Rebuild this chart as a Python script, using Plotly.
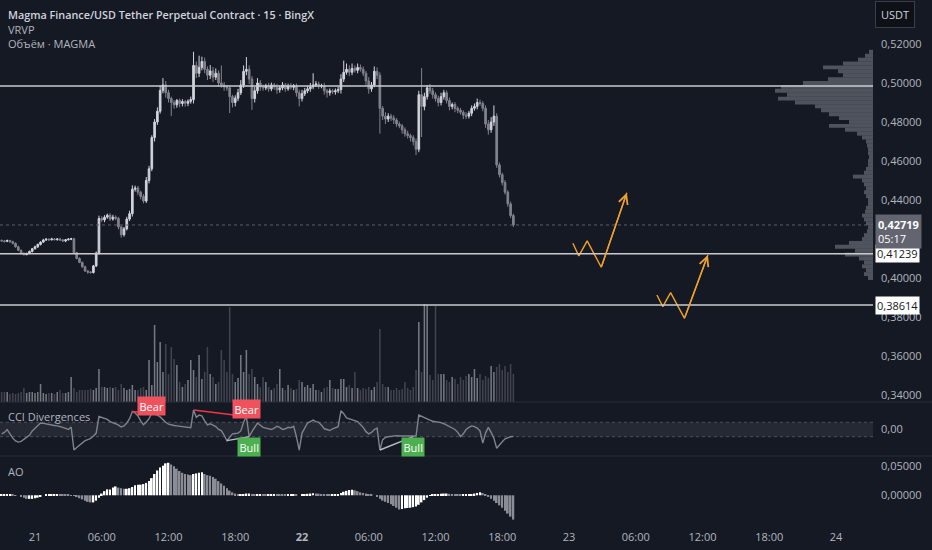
import numpy as np
import pandas as pd
import plotly.graph_objects as go

# ---------------- data ----------------
title_main = "Magma Finance/USD Tether Perpetual Contract · 15 · BingX"
title_vrvp = "VRVP"
title_vol = "Объём · MAGMA"
title_cci = "CCI Divergences"
title_ao = "AO"
quote_ccy = "USDT"

start_time = "2025-05-20 21:00"
open_first = 0.4192

closes = [
    0.4190, 0.4188, 0.4192, 0.4186, 0.4178, 0.4160, 0.4142, 0.4126, 0.4120, 0.4126,
    0.4136, 0.4150, 0.4160, 0.4172, 0.4184, 0.4195, 0.4199, 0.4196, 0.4200, 0.4197,
    0.4200, 0.4195, 0.4190, 0.4196, 0.4199, 0.4201, 0.4130, 0.4100, 0.4080, 0.4058,
    0.4036, 0.4030, 0.4028, 0.4062, 0.4128, 0.4305, 0.4298, 0.4312, 0.4322, 0.4302,
    0.4312, 0.4306, 0.4262, 0.4222, 0.4252, 0.4302, 0.4330, 0.4455, 0.4462, 0.4440,
    0.4418, 0.4395, 0.4500, 0.4560, 0.4720, 0.4800, 0.4855, 0.4962, 0.4990, 0.4950,
    0.4920, 0.4900, 0.4888, 0.4910, 0.4895, 0.4905, 0.4896, 0.4906, 0.4915, 0.5090,
    0.5050, 0.5080, 0.5110, 0.5070, 0.5040, 0.5062, 0.5030, 0.5050, 0.5000, 0.4990,
    0.4980, 0.4975, 0.4930, 0.4900, 0.4922, 0.4950, 0.4990, 0.5060, 0.5070, 0.5020,
    0.4920, 0.4960, 0.5000, 0.4980, 0.4975, 0.4986, 0.4970, 0.4990, 0.4980, 0.4965,
    0.4975, 0.4990, 0.4970, 0.4985, 0.4978, 0.4985, 0.4950, 0.4920, 0.4945, 0.4960,
    0.4970, 0.4980, 0.4990, 0.4995, 0.4985, 0.4986, 0.4960, 0.4950, 0.4960, 0.4955,
    0.4960, 0.4966, 0.5020, 0.5055, 0.5070, 0.5055, 0.5075, 0.5065, 0.5080, 0.5070,
    0.5050, 0.5010, 0.4970, 0.4990, 0.5060, 0.5040, 0.4870, 0.4830, 0.4815, 0.4830,
    0.4820, 0.4810, 0.4790, 0.4780, 0.4760, 0.4740, 0.4730, 0.4720, 0.4700, 0.4660,
    0.4940, 0.4880, 0.4930, 0.4975, 0.4960, 0.4940, 0.4920, 0.4900, 0.4930, 0.4950,
    0.4910, 0.4880, 0.4890, 0.4870, 0.4860, 0.4850, 0.4835, 0.4830, 0.4845, 0.4870,
    0.4880, 0.4900, 0.4895, 0.4870, 0.4790, 0.4760, 0.4800, 0.4830, 0.4580, 0.4530,
    0.4490, 0.4440, 0.4380, 0.4320, 0.42719,
]

# wick lengths above / below the candle body, in units of 0.0001
wick_up = [
    6, 4, 5, 4, 5, 4, 6, 4, 5, 4,
    5, 4, 6, 5, 4, 6, 5, 4, 6, 5,
    4, 6, 5, 4, 6, 5, 5, 4, 6, 4,
    5, 4, 6, 5, 8, 15, 12, 10, 8, 10,
    12, 9, 8, 6, 10, 12, 15, 20, 12, 10,
    8, 12, 18, 15, 12, 15, 20, 25, 35, 20,
    15, 10, 12, 8, 10, 12, 8, 10, 15, 70,
    20, 60, 25, 20, 15, 30, 20, 25, 15, 90,
    15, 10, 12, 10, 15, 20, 25, 30, 63, 20,
    15, 20, 25, 15, 12, 10, 15, 12, 10, 15,
    12, 15, 10, 12, 15, 10, 12, 15, 20, 15,
    15, 20, 60, 15, 12, 10, 15, 10, 12, 10,
    12, 15, 25, 60, 30, 20, 25, 15, 20, 15,
    15, 12, 20, 15, 25, 20, 15, 12, 20, 15,
    12, 15, 10, 12, 10, 12, 15, 10, 12, 15,
    20, 137, 20, 15, 20, 15, 12, 15, 20, 15,
    12, 15, 10, 12, 10, 12, 10, 15, 12, 15,
    15, 20, 15, 12, 15, 20, 25, 55, 15, 12,
    10, 12, 10, 12, 10,
]
wick_dn = [
    5, 6, 4, 5, 6, 5, 4, 6, 5, 4,
    4, 5, 4, 6, 5, 4, 5, 6, 4, 5,
    6, 4, 5, 6, 4, 5, 6, 5, 4, 6,
    5, 8, 6, 5, 6, 8, 10, 12, 8, 10,
    8, 10, 12, 15, 10, 8, 10, 15, 12, 15,
    15, 12, 10, 15, 12, 20, 15, 12, 15, 25,
    20, 70, 20, 15, 20, 15, 18, 15, 12, 20,
    25, 20, 15, 20, 25, 20, 25, 15, 20, 15,
    20, 15, 84, 25, 20, 15, 12, 15, 20, 25,
    58, 20, 15, 20, 15, 12, 15, 12, 15, 20,
    15, 12, 15, 10, 12, 15, 20, 40, 15, 12,
    12, 15, 12, 10, 15, 12, 20, 25, 15, 12,
    15, 12, 20, 15, 12, 20, 15, 12, 15, 12,
    15, 20, 25, 15, 12, 20, 130, 20, 25, 15,
    15, 20, 15, 12, 20, 15, 15, 20, 20, 30,
    15, 157, 20, 15, 15, 20, 15, 20, 15, 15,
    15, 20, 15, 20, 15, 12, 20, 15, 12, 15,
    12, 15, 12, 15, 20, 25, 15, 20, 15, 15,
    15, 12, 15, 12, 10,
]

volumes = [
    10, 10, 10, 8, 9, 8, 9, 10, 14, 9,
    10, 10, 9, 10, 18, 9, 8, 9, 9, 8,
    10, 12, 9, 9, 10, 25, 14, 10, 12, 12,
    12, 12, 13, 12, 14, 33, 15, 15, 14, 15,
    14, 15, 12, 18, 14, 12, 13, 17, 12, 12,
    14, 15, 12, 42, 17, 77, 40, 60, 30, 58,
    28, 55, 43, 37, 20, 15, 18, 22, 42, 32,
    25, 47, 23, 30, 55, 28, 25, 18, 20, 52,
    42, 30, 95, 28, 20, 24, 47, 30, 52, 28,
    33, 25, 18, 15, 25, 20, 15, 12, 14, 18,
    33, 14, 12, 17, 14, 12, 13, 22, 20, 15,
    17, 14, 18, 12, 12, 10, 14, 15, 22, 14,
    13, 13, 23, 23, 15, 17, 14, 30, 14, 12,
    14, 13, 15, 12, 15, 20, 73, 18, 15, 15,
    12, 12, 14, 12, 13, 20, 14, 12, 15, 32,
    80, 30, 98, 97, 27, 22, 96, 28, 28, 28,
    22, 20, 25, 23, 18, 25, 22, 26, 28, 25,
    33, 24, 28, 22, 26, 24, 36, 30, 35, 38,
    32, 36, 30, 38, 28,
]

cci = [
    -60, -40, 0, -60, -120, -160, -175, -165, -140, -110,
    -80, -20, 20, 55, 90, 85, 75, 70, 65, 55,
    50, 45, 30, 15, 0, 35, -285, -250, -220, -180,
    -155, -140, -125, -90, -50, 180, 165, 155, 140, 110,
    100, 80, 60, 35, 50, 90, 150, 250, 230, 190,
    120, 65, 100, 150, 225, 215, 200, 175, 130, 100,
    75, 60, 55, 50, 45, 40, 30, 20, 25, 270,
    170, 200, 190, 120, 65, 80, 65, 40, 0, -15,
    -80, -155, -110, -60, -55, -50, -20, 100, 180, -100,
    -30, 30, 90, 60, 30, 20, 10, 0, 20, 45,
    30, 0, 10, 30, 25, 45, -100, -285, -50, 30,
    90, 110, 130, 110, 100, 60, 10, 0, -15, 10,
    30, 40, 260, 220, 160, 150, 140, 130, 110, 70,
    30, -30, -60, -40, 0, 20, -285, -140, -110, -100,
    -95, -80, -85, -90, -90, -95, -100, -100, -100, -90,
    200, 180, 160, 140, 130, 115, 110, 100, 95, 80,
    60, 40, 20, 0, -40, -100, -60, 0, 30, 50,
    40, 20, -20, -190, -50, 30, -40, -120, -260, -210,
    -170, -130, -110, -100, -95,
]

ao = [
    0.001, 0.001, 0.001, 0.001, 0.0008, 0.0005, 0.0, -0.002, -0.004, -0.006,
    -0.006, -0.006, -0.005, -0.004, -0.002, 0.0, 0.001, 0.0015, 0.002, 0.002,
    0.002, 0.0018, 0.0015, 0.001, 0.0008, 0.0005, -0.001, -0.003, -0.005, -0.007,
    -0.009, -0.011, -0.012, -0.012, -0.009, -0.004, 0.003, 0.007, 0.010, 0.010,
    0.013, 0.015, 0.013, 0.012, 0.011, 0.011, 0.012, 0.014, 0.017, 0.018,
    0.018, 0.019, 0.021, 0.024, 0.029, 0.036, 0.042, 0.047, 0.050, 0.054,
    0.055, 0.052, 0.049, 0.045, 0.041, 0.038, 0.036, 0.035, 0.034, 0.036,
    0.037, 0.038, 0.039, 0.036, 0.034, 0.033, 0.031, 0.028, 0.024, 0.020,
    0.016, 0.012, 0.008, 0.005, 0.003, 0.001, 0.001, 0.002, 0.003, 0.003,
    0.002, 0.001, 0.001, 0.0015, 0.001, 0.0008, 0.001, 0.0015, 0.002, 0.0018,
    0.0015, 0.0012, 0.001, 0.0015, 0.0018, 0.002, 0.0012, 0.0, 0.001, 0.002,
    0.0025, 0.003, 0.0035, 0.003, 0.0028, 0.002, 0.0015, 0.001, 0.0008, 0.001,
    0.0015, 0.002, 0.004, 0.006, 0.0075, 0.009, 0.0095, 0.0085, 0.007, 0.005,
    0.004, 0.003, 0.002, 0.001, 0.0, -0.002, -0.006, -0.009, -0.011, -0.013,
    -0.015, -0.018, -0.021, -0.024, -0.023, -0.022, -0.0215, -0.021, -0.020, -0.019,
    -0.016, -0.012, -0.008, -0.004, -0.001, 0.001, 0.0015, 0.002, 0.0025, 0.003,
    0.003, 0.0025, 0.002, 0.0015, 0.001, 0.0008, 0.001, 0.0012, 0.0015, 0.002,
    0.003, 0.004, 0.005, 0.004, 0.002, -0.002, -0.006, -0.009, -0.013, -0.017,
    -0.021, -0.026, -0.031, -0.036, -0.041,
]

# visible-range volume profile (top bin first)
profile_top = 0.516
profile_step = 0.002
profile_vol = [
    4, 8, 15, 30, 50, 35, 30, 45, 70, 92,
    98, 86, 95, 78, 58, 52, 44, 34, 24, 44,
    28, 16, 11, 7, 6, 5, 5, 4, 5, 5,
    7, 9, 20, 11, 9, 7, 9, 7, 5, 5,
    7, 8, 11, 9, 7, 5, 6, 9, 11, 24,
    38, 18, 28, 14, 9, 11, 7, 9, 5,
]

level_lines = [0.4985, 0.41239, 0.38614]
labeled_levels = [0.41239, 0.38614]
countdown = "05:17"

bear_pairs = [(47, 54), (69, 88)]
bull_pairs = [(81, 89), (136, 148)]

proj1_t = ["2025-05-23 00:21", "2025-05-23 00:53", "2025-05-23 01:38", "2025-05-23 02:54", "2025-05-23 05:12"]
proj1_p = [0.4178, 0.4113, 0.4190, 0.4055, 0.4437]
proj2_t = ["2025-05-23 07:54", "2025-05-23 08:26", "2025-05-23 09:08", "2025-05-23 10:23", "2025-05-23 12:29"]
proj2_p = [0.3913, 0.3853, 0.3925, 0.3793, 0.4118]

time_ticks = ["2025-05-21 00:00", "2025-05-21 06:00", "2025-05-21 12:00", "2025-05-21 18:00",
              "2025-05-22 00:00", "2025-05-22 06:00", "2025-05-22 12:00", "2025-05-22 18:00",
              "2025-05-23 00:00", "2025-05-23 06:00", "2025-05-23 12:00", "2025-05-23 18:00",
              "2025-05-24 00:00"]
time_text = ["21", "06:00", "12:00", "18:00", "<b>22</b>", "06:00", "12:00", "18:00",
             "23", "06:00", "12:00", "18:00", "24"]
price_ticks = [0.34, 0.36, 0.38, 0.40, 0.44, 0.46, 0.48, 0.50, 0.52]

# ---------------- derived ----------------
n = len(closes)
for name, arr in [("wick_up", wick_up), ("wick_dn", wick_dn), ("volumes", volumes),
                  ("cci", cci), ("ao", ao)]:
    assert len(arr) == n, f"{name} has {len(arr)} values, expected {n}"

times = pd.date_range(start_time, periods=n, freq="15min")
opens = [open_first] + closes[:-1]
highs = [max(o, c) + u * 1e-4 for o, c, u in zip(opens, closes, wick_up)]
lows = [min(o, c) - d * 1e-4 for o, c, d in zip(opens, closes, wick_dn)]
is_up = [c >= o for o, c in zip(opens, closes)]
last_price = closes[-1]
profile_prices = [profile_top - k * profile_step for k in range(len(profile_vol))]

def fmt(v, d=5):
    return f"{v:.{d}f}".replace(".", ",")

# ---------------- geometry ----------------
BG = "#151924"
W, H = 932, 550
ML, MR, MT, MB = 0, 59, 0, 28
PW, PH = W - ML - MR, H - MT - MB

def fx(px):
    return (px - ML) / PW

def fy(py):
    return 1 - (py - MT) / PH

price_dom = [fy(402), 1]
cci_dom = [fy(456), fy(402)]
ao_dom = [0, fy(456)]
x_range = ["2025-05-20 20:51:14", "2025-05-24 03:19:33"]
price_range = [0.33641, 0.54256]

TXT = "#b2b5be"
FONT = "Open Sans"

fig = go.Figure()

# volume (overlay in price pane)
fig.add_trace(go.Bar(
    x=times, y=volumes, xaxis="x", yaxis="y5",
    width=0.55 * 15 * 60 * 1000,
    marker=dict(color=["rgba(150,153,162,0.75)" if u else "rgba(120,123,134,0.45)" for u in is_up],
                line=dict(width=0)),
    hoverinfo="skip",
))

# candles
fig.add_trace(go.Candlestick(
    x=times, open=opens, high=highs, low=lows, close=closes,
    xaxis="x", yaxis="y",
    increasing=dict(line=dict(color="#d1d4dc", width=1), fillcolor="#d1d4dc"),
    decreasing=dict(line=dict(color="#80838d", width=1), fillcolor="#80838d"),
    whiskerwidth=0,
    hoverinfo="skip",
))

# volume profile (bars grow leftward from the right edge)
fig.add_trace(go.Bar(
    x=profile_vol, y=profile_prices, orientation="h",
    xaxis="x4", yaxis="y", width=profile_step,
    marker=dict(color="rgba(128,131,140,0.55)", line=dict(width=0)),
    hoverinfo="skip",
))

# projection zig-zags
for pt, pp in [(proj1_t, proj1_p), (proj2_t, proj2_p)]:
    fig.add_trace(go.Scatter(
        x=pt, y=pp, mode="lines", xaxis="x", yaxis="y",
        line=dict(color="#f0a030", width=1.4), hoverinfo="skip",
    ))

# CCI line
fig.add_trace(go.Scatter(
    x=times, y=cci, mode="lines", xaxis="x2", yaxis="y2",
    line=dict(color="#80838d", width=1.4), hoverinfo="skip",
))
for a, b in bear_pairs:
    fig.add_trace(go.Scatter(
        x=[times[a], times[b]], y=[cci[a], cci[b]], mode="lines",
        xaxis="x2", yaxis="y2", line=dict(color="#f23645", width=1.4), hoverinfo="skip",
    ))
for a, b in bull_pairs:
    fig.add_trace(go.Scatter(
        x=[times[a], times[b]], y=[cci[a], cci[b]], mode="lines",
        xaxis="x2", yaxis="y2", line=dict(color="#b8bbc4", width=1.4), hoverinfo="skip",
    ))

# AO histogram
ao_colors = ["#ffffff" if (i == 0 or ao[i] >= ao[i - 1]) else "#8a8d96" for i in range(n)]
fig.add_trace(go.Bar(
    x=times, y=ao, xaxis="x3", yaxis="y3",
    width=0.62 * 15 * 60 * 1000,
    marker=dict(color=ao_colors, line=dict(width=0)),
    hoverinfo="skip",
))

# ---------------- shapes ----------------
shapes = []
shapes.append(dict(type="rect", xref="paper", yref="y2", x0=0, x1=1, y0=-100, y1=100,
                   fillcolor="rgba(120,123,134,0.17)", line=dict(width=0), layer="below"))
for lv in (100, -100):
    shapes.append(dict(type="line", xref="paper", yref="y2", x0=0, x1=1, y0=lv, y1=lv,
                       line=dict(color="#4b4f5a", width=1, dash="dot"), layer="below"))
for py in (402, 456):
    shapes.append(dict(type="line", xref="paper", yref="paper", x0=0, x1=W / PW,
                       y0=fy(py), y1=fy(py), line=dict(color="#2a2e39", width=1)))
shapes.append(dict(type="line", xref="paper", yref="y", x0=0, x1=1, y0=last_price, y1=last_price,
                   line=dict(color="#5d606b", width=1, dash="dot")))
for lv in level_lines:
    shapes.append(dict(type="line", xref="paper", yref="y", x0=0, x1=1, y0=lv, y1=lv,
                       line=dict(color="#c9cbd1", width=1.5)))

# ---------------- annotations ----------------
ann = []
ann.append(dict(text=title_main, xref="paper", yref="paper", x=fx(6), y=fy(14),
                xanchor="left", yanchor="middle", showarrow=False,
                font=dict(family=FONT, size=10.8, color="#d1d4dc", weight=600)))
ann.append(dict(text=title_vrvp, xref="paper", yref="paper", x=fx(6), y=fy(29),
                xanchor="left", yanchor="middle", showarrow=False,
                font=dict(family=FONT, size=11, color=TXT)))
ann.append(dict(text=title_vol, xref="paper", yref="paper", x=fx(6), y=fy(43),
                xanchor="left", yanchor="middle", showarrow=False,
                font=dict(family=FONT, size=11, color=TXT)))
ann.append(dict(text=title_cci, xref="paper", yref="paper", x=fx(6), y=fy(416),
                xanchor="left", yanchor="middle", showarrow=False,
                font=dict(family=FONT, size=11, color=TXT)))
ann.append(dict(text=title_ao, xref="paper", yref="paper", x=fx(6), y=fy(471),
                xanchor="left", yanchor="middle", showarrow=False,
                font=dict(family=FONT, size=11, color=TXT)))
ann.append(dict(text=quote_ccy, xref="paper", yref="paper", x=fx(875), y=fy(14),
                xanchor="left", yanchor="middle", showarrow=False,
                bgcolor="#0e1118", bordercolor="#3a3e4a", borderwidth=1, borderpad=5,
                font=dict(family=FONT, size=11, color="#d1d4dc")))
for lv in labeled_levels:
    ann.append(dict(text=fmt(lv), xref="paper", yref="y", x=fx(875), y=lv,
                    xanchor="left", yanchor="middle", showarrow=False,
                    bgcolor="#ffffff", borderpad=1,
                    font=dict(family=FONT, size=11, color="#131722")))
ann.append(dict(text=f"<b>{fmt(last_price)}</b><br>{countdown}", xref="paper", yref="y",
                x=fx(875), y=last_price, yshift=-7, xanchor="left", yanchor="middle",
                showarrow=False, bgcolor="#62656f", borderpad=2, align="left",
                font=dict(family=FONT, size=11, color="#ffffff")))
for (a, b), py in zip(bear_pairs, (406, 409)):
    ann.append(dict(text="Bear", xref="x2", yref="paper", x=times[b], y=fy(py),
                    xanchor="center", yanchor="middle", showarrow=False,
                    bgcolor="#f0525d", borderpad=1.5,
                    font=dict(family=FONT, size=11, color="#ffffff")))
for (a, b) in bull_pairs:
    ann.append(dict(text="Bull", xref="x2", yref="paper", x=times[b], y=fy(446.5),
                    xanchor="center", yanchor="middle", showarrow=False,
                    bgcolor="#4caf50", borderpad=1.5,
                    font=dict(family=FONT, size=11, color="#ffffff")))
for pt, pp in [(proj1_t, proj1_p), (proj2_t, proj2_p)]:
    ann.append(dict(text="", x=pt[-1], y=pp[-1], xref="x", yref="y",
                    ax=pt[-2], ay=pp[-2], axref="x", ayref="y",
                    showarrow=True, arrowhead=5, arrowsize=1.3, arrowwidth=1.4,
                    arrowcolor="#f0a030", standoff=0))

axis_common = dict(showgrid=False, zeroline=False, showline=False, ticks="", fixedrange=True)

fig.update_layout(
    width=W, height=H,
    margin=dict(l=ML, r=MR, t=MT, b=MB),
    paper_bgcolor=BG, plot_bgcolor=BG,
    showlegend=False,
    separators=", ",
    boxgap=0.15,
    font=dict(family=FONT, size=11, color=TXT),
    xaxis=dict(domain=[0, 1], anchor="y", type="date", range=x_range, showticklabels=False,
               rangeslider=dict(visible=False), **axis_common),
    xaxis2=dict(matches="x", anchor="y2", showticklabels=False, **axis_common),
    xaxis3=dict(matches="x", anchor="y3", tickmode="array", tickvals=time_ticks, ticktext=time_text,
                tickfont=dict(family=FONT, size=11, color=TXT), ticklabelstandoff=7, **axis_common),
    xaxis4=dict(overlaying="x", anchor="y", range=[PW, 0], visible=False, fixedrange=True),
    yaxis=dict(domain=price_dom, anchor="x", side="right", range=price_range,
               tickmode="array", tickvals=price_ticks, tickformat=".5f",
               tickfont=dict(family=FONT, size=11, color=TXT), ticklabelstandoff=7, **axis_common),
    yaxis5=dict(overlaying="y", anchor="x", range=[0, 402], visible=False, fixedrange=True),
    yaxis2=dict(domain=cci_dom, anchor="x2", side="right", range=[-368, 382],
                tickmode="array", tickvals=[0], tickformat=".2f",
                tickfont=dict(family=FONT, size=11, color=TXT), ticklabelstandoff=7, **axis_common),
    yaxis3=dict(domain=ao_dom, anchor="x3", side="right", range=[-0.0451, 0.0664],
                tickmode="array", tickvals=[0, 0.05], tickformat=".5f",
                tickfont=dict(family=FONT, size=11, color=TXT), ticklabelstandoff=7, **axis_common),
    shapes=shapes,
    annotations=ann,
)

fig.write_html("out.html", config={"displayModeBar": False},
               post_script="document.body.style.margin='0';document.body.style.background='%s';" % BG)
